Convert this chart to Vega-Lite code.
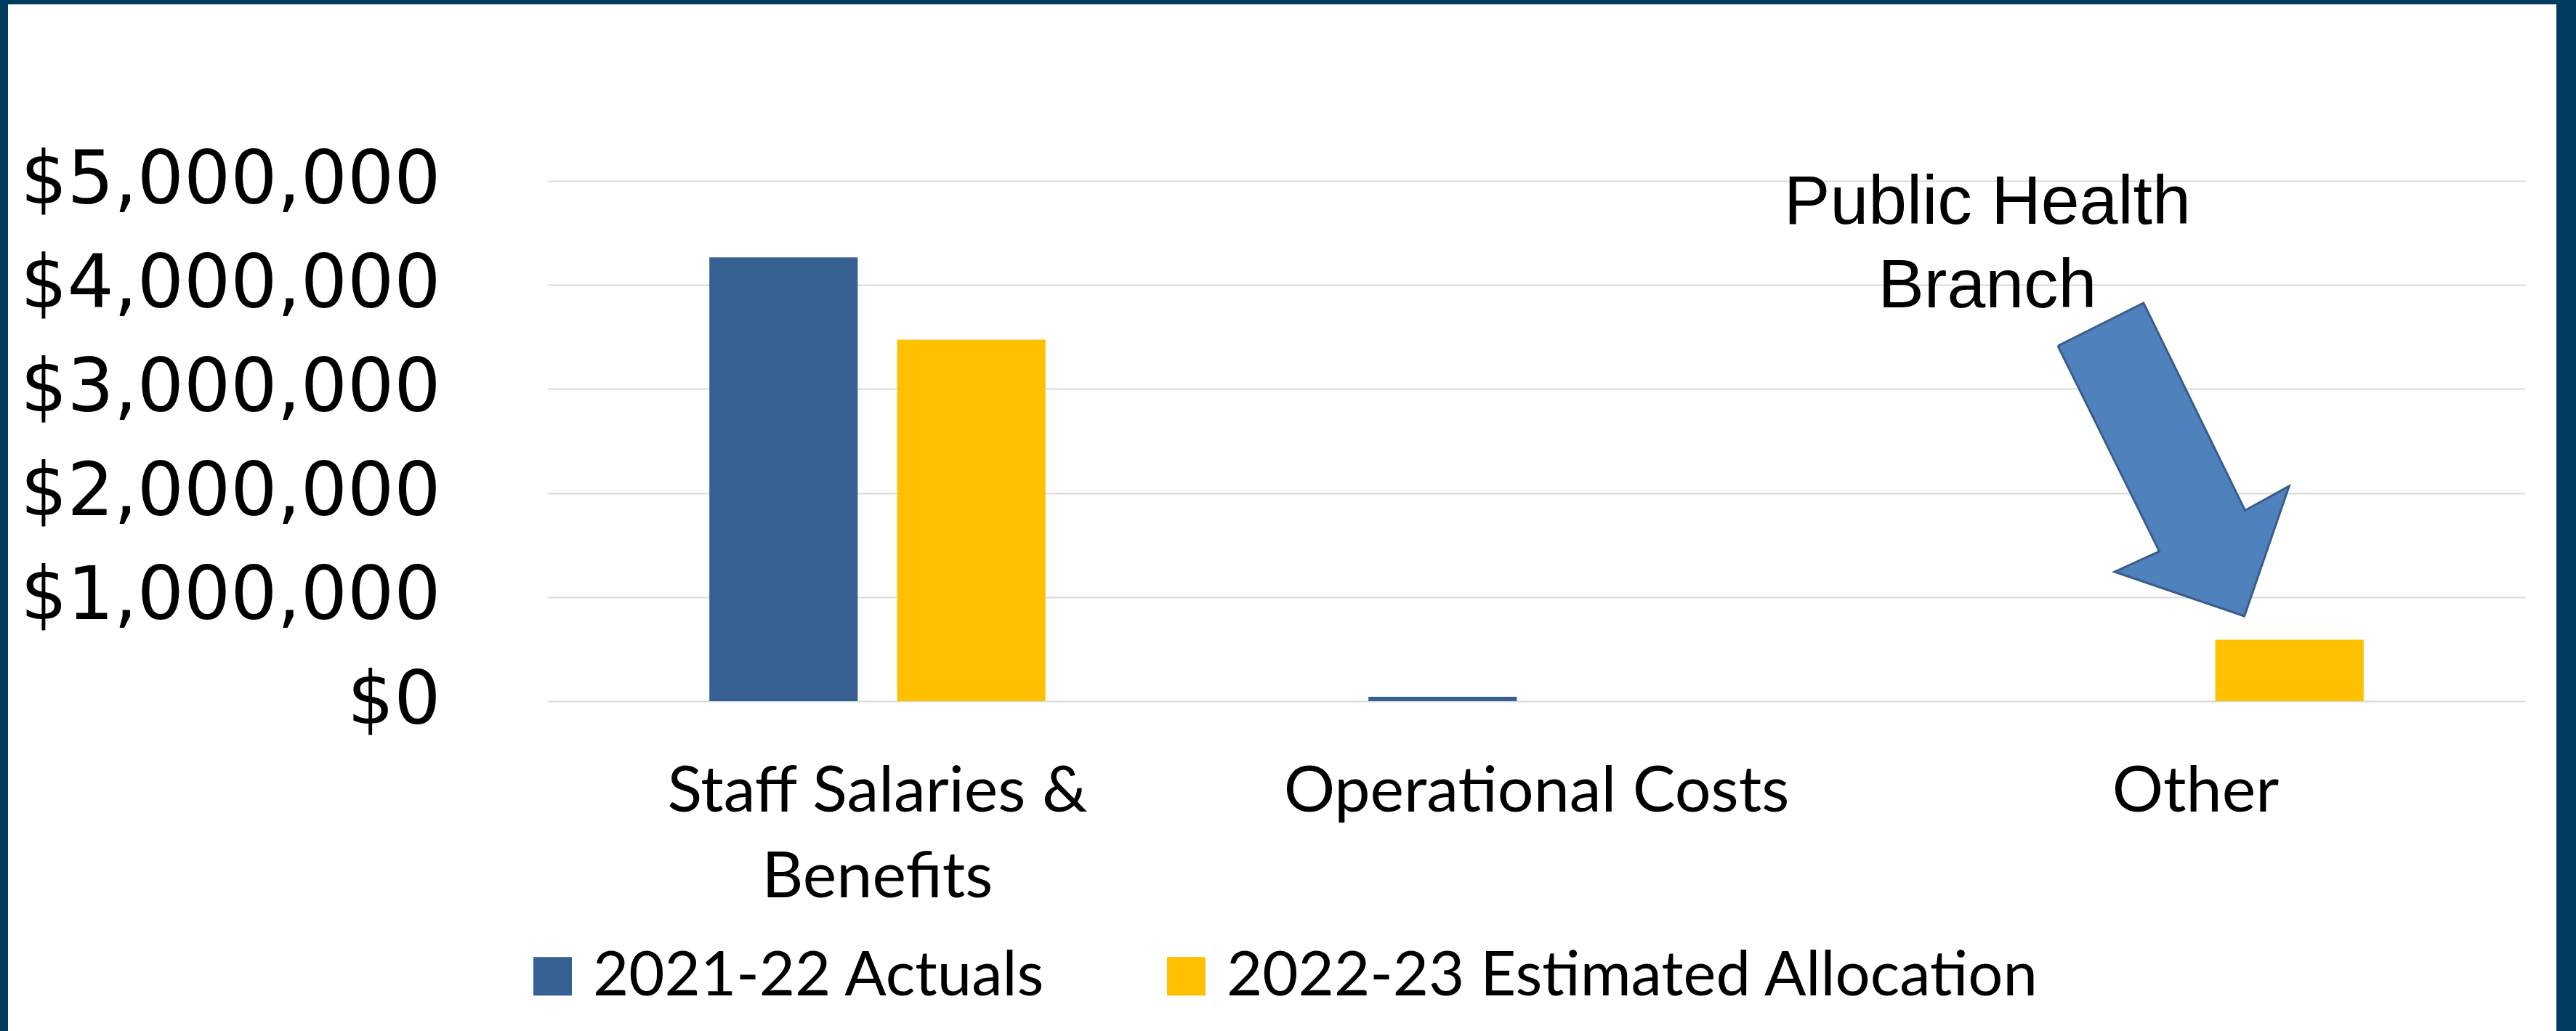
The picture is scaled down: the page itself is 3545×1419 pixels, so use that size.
{
  "$schema": "https://vega.github.io/schema/vega-lite/v6.json",
  "width": 3507,
  "height": 1413,
  "autosize": {"type": "none"},
  "padding": {"left": 11, "top": 6, "right": 27, "bottom": 0},
  "background": "#003A5E",
  "config": {
    "view": {"fill": "white", "stroke": null}
  },
  "layer": [
    {
      "data": {
        "values": [
          {"category": "Staff Salaries & Benefits", "series": "2021-22 Actuals", "amount": 4265000},
          {"category": "Staff Salaries & Benefits", "series": "2022-23 Estimated Allocation", "amount": 3475000},
          {"category": "Operational Costs", "series": "2021-22 Actuals", "amount": 42000},
          {"category": "Operational Costs", "series": "2022-23 Estimated Allocation", "amount": 0},
          {"category": "Other", "series": "2021-22 Actuals", "amount": 0},
          {"category": "Other", "series": "2022-23 Estimated Allocation", "amount": 590000}
        ]
      },
      "mark": {"type": "bar"},
      "encoding": {
        "x": {
          "field": "category",
          "type": "nominal",
          "sort": ["Staff Salaries & Benefits", "Operational Costs", "Other"],
          "scale": {"range": [743, 3464], "paddingInner": 0.49, "paddingOuter": 0.245},
          "axis": {
            "title": null,
            "orient": "bottom",
            "offset": -454,
            "domain": false,
            "ticks": false,
            "tickSize": 0,
            "grid": false,
            "labelAngle": 0,
            "labelFont": "Lato",
            "labelFontSize": 88,
            "labelColor": "#000000",
            "labelBaseline": "alphabetic",
            "labelPadding": 151,
            "labelLineHeight": 118,
            "labelLimit": 2000,
            "labelExpr": "datum.label == 'Staff Salaries & Benefits' ? ['Staff Salaries &', 'Benefits'] : datum.label"
          }
        },
        "xOffset": {
          "field": "series",
          "type": "nominal",
          "sort": ["2021-22 Actuals", "2022-23 Estimated Allocation"],
          "scale": {"paddingInner": 0.21, "paddingOuter": 0}
        },
        "y": {
          "field": "amount",
          "type": "quantitative",
          "scale": {"domain": [0, 5000000], "range": [959, 243], "nice": false, "zero": true},
          "axis": {
            "title": null,
            "orient": "left",
            "offset": -743,
            "domain": false,
            "ticks": false,
            "tickSize": 0,
            "values": [0, 1000000, 2000000, 3000000, 4000000, 5000000],
            "format": "$,.0f",
            "labelFont": "DejaVu Sans",
            "labelFontSize": 101,
            "labelColor": "#000000",
            "labelPadding": 148,
            "labelLimit": 2000,
            "grid": true,
            "gridColor": "#D9D9D9",
            "gridWidth": 2
          }
        },
        "color": {
          "field": "series",
          "type": "nominal",
          "scale": {"domain": ["2021-22 Actuals", "2022-23 Estimated Allocation"], "range": ["#366092", "#FFC000"]},
          "legend": {
            "title": null,
            "orient": "none",
            "legendX": 707,
            "legendY": 1295,
            "direction": "horizontal",
            "symbolType": "square",
            "symbolSize": 2809,
            "symbolStrokeWidth": 0,
            "labelFont": "Lato",
            "labelFontSize": 85,
            "labelColor": "#000000",
            "labelOffset": 13,
            "labelLimit": 2000,
            "columnPadding": 150
          }
        }
      }
    },
    {
      "layer": [
        {
          "data": {
            "values": [
              {"i": 1, "px": 2.291, "py": 3415000},
              {"i": 2, "px": 2.421, "py": 3827000},
              {"i": 3, "px": 2.575, "py": 1833000},
              {"i": 4, "px": 2.642, "py": 2067000},
              {"i": 5, "px": 2.574, "py": 817000},
              {"i": 6, "px": 2.377, "py": 1243000},
              {"i": 7, "px": 2.445, "py": 1439000},
              {"i": 8, "px": 2.291, "py": 3415000}
            ]
          },
          "mark": {"type": "line", "fill": "#4F81BD", "stroke": "#385D8A", "strokeWidth": 3, "strokeJoin": "miter"},
          "encoding": {
            "x": {"field": "px", "type": "quantitative", "scale": {"domain": [0, 3], "range": [743, 3464], "nice": false, "zero": false}, "axis": null},
            "y": {"field": "py", "type": "quantitative"},
            "order": {"field": "i", "type": "quantitative"}
          }
        },
        {
          "data": {"values": [{"note": "Public Health Branch"}]},
          "mark": {"type": "text", "text": ["Public Health", "Branch"], "font": "Liberation Sans", "fontSize": 95, "lineHeight": 115, "align": "center", "baseline": "alphabetic", "color": "#000000"},
          "encoding": {
            "x": {"datum": 2.184, "type": "quantitative", "axis": null},
            "y": {"datum": 4588000, "type": "quantitative"}
          }
        }
      ]
    }
  ],
  "resolve": {"scale": {"x": "independent"}}
}
